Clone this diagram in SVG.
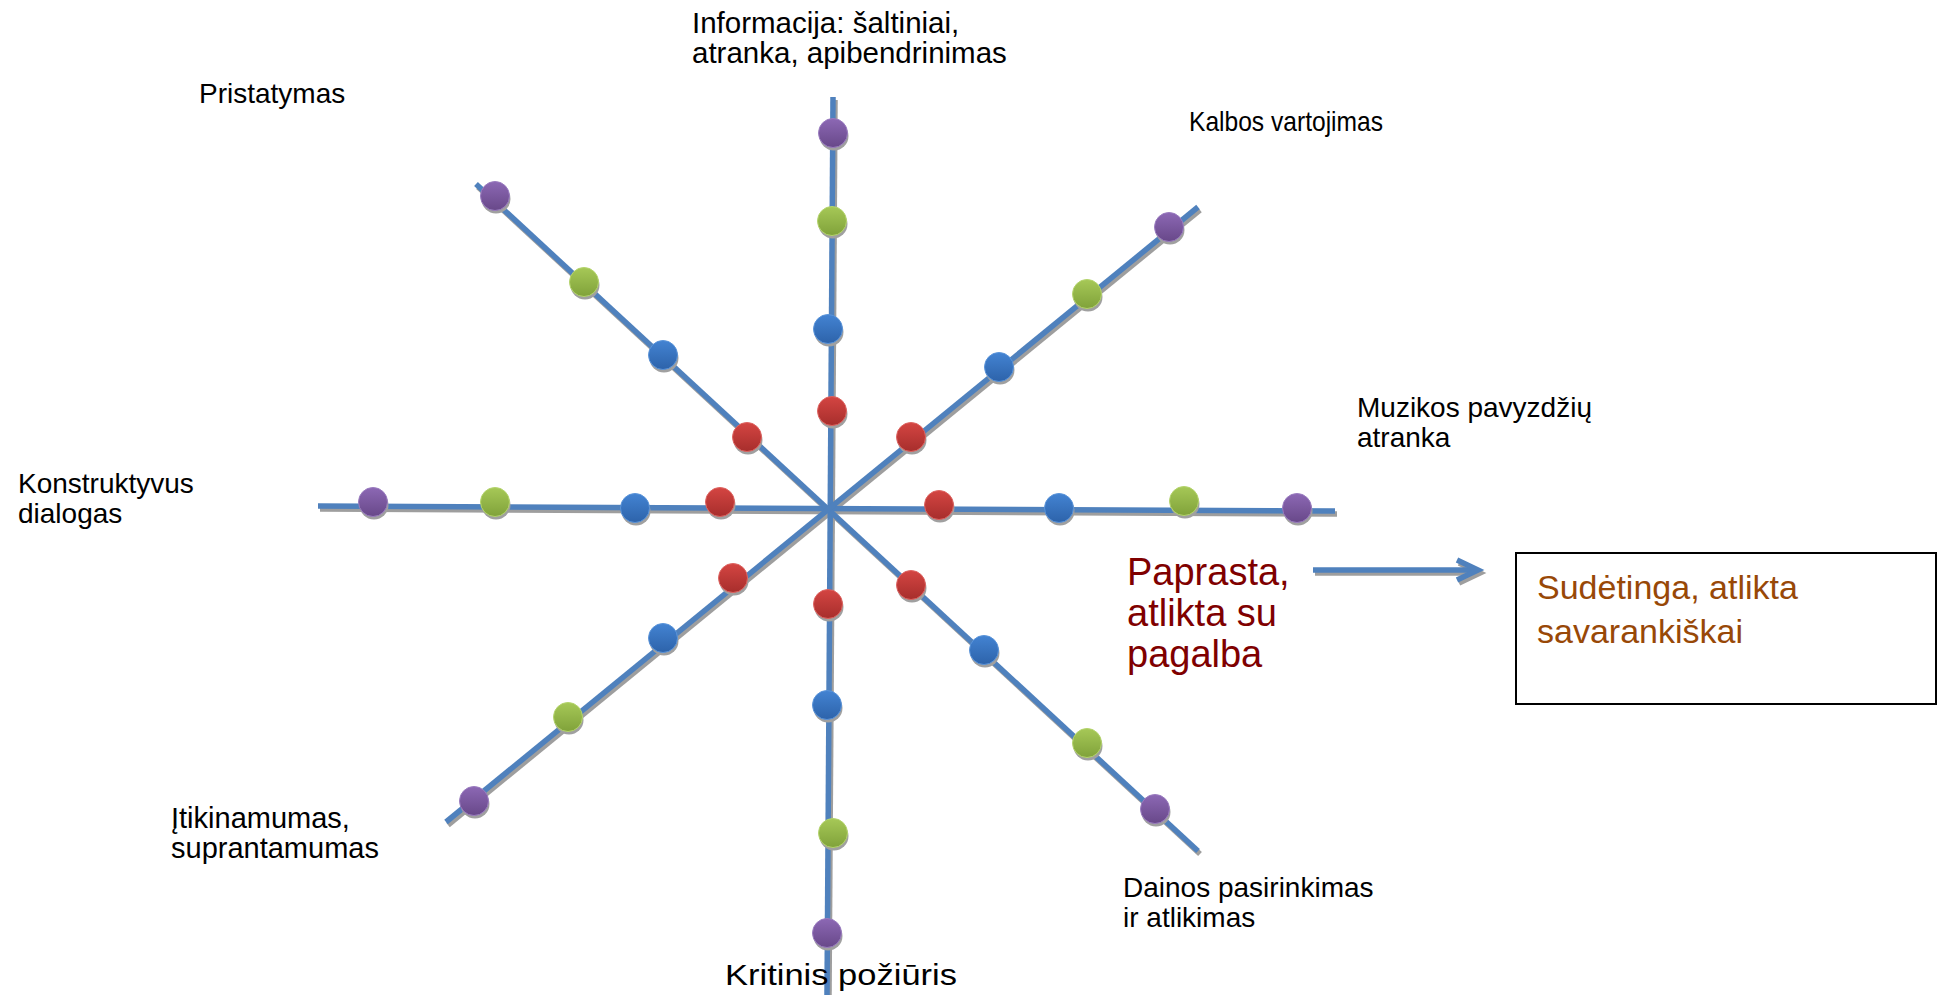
<svg xmlns="http://www.w3.org/2000/svg" width="1946" height="995" viewBox="0 0 1946 995">
<defs>
<linearGradient id="gP" x1="0" y1="0" x2="0" y2="1"><stop offset="0" stop-color="#8c68b4"/><stop offset="1" stop-color="#684889"/></linearGradient>
<linearGradient id="gG" x1="0" y1="0" x2="0" y2="1"><stop offset="0" stop-color="#a6c857"/><stop offset="1" stop-color="#80a23a"/></linearGradient>
<linearGradient id="gB" x1="0" y1="0" x2="0" y2="1"><stop offset="0" stop-color="#4383d2"/><stop offset="1" stop-color="#2d63aa"/></linearGradient>
<linearGradient id="gR" x1="0" y1="0" x2="0" y2="1"><stop offset="0" stop-color="#d44542"/><stop offset="1" stop-color="#a72e2c"/></linearGradient>
</defs>
<style>
.ax{stroke:#4f81bd;stroke-width:5.5;fill:none}
.sh{stroke:#9e9e9e;stroke-width:5.5;fill:none}
.ds{fill:#a0a0a0}
.p{fill:url(#gP);stroke:#9a7cc0;stroke-width:1}
.g{fill:url(#gG);stroke:#b4d46c;stroke-width:1}
.b{fill:url(#gB);stroke:#5a94da;stroke-width:1}
.r{fill:url(#gR);stroke:#de6461;stroke-width:1}
.lbl{font-family:"Liberation Sans",Arial,sans-serif;font-size:28px;fill:#000}
.big{font-family:"Liberation Sans",Arial,sans-serif;font-size:38px;fill:#7f0000}
.box{font-family:"Liberation Sans",Arial,sans-serif;font-size:34px;fill:#984807}
</style>
<rect width="1946" height="995" fill="#fff"/>
<g id="connectors">
<line class="sh" x1="835" y1="100" x2="829" y2="996"/>
<line class="sh" x1="320" y1="509" x2="1337" y2="514"/>
<line class="sh" x1="478" y1="187" x2="1200" y2="854"/>
<line class="sh" x1="448" y1="825" x2="1200" y2="210"/>
<line class="ax" x1="833" y1="97" x2="827" y2="995"/>
<line class="ax" x1="318" y1="506" x2="1335" y2="511"/>
<line class="ax" x1="476" y1="184" x2="1198" y2="851"/>
<line class="ax" x1="446" y1="822" x2="1198" y2="207"/>
<g id="arrow">
<line class="sh" x1="1315" y1="573" x2="1476" y2="573"/>
<polyline class="sh" points="1459,563 1480,573 1459,583"/>
<line class="ax" x1="1313" y1="570" x2="1474" y2="570"/>
<polyline class="ax" points="1457,560 1478,570 1457,580"/>
</g>
</g>
<g id="dots">
<g id="axis-n">
<circle class="ds" cx="834" cy="136" r="14.5"/><circle class="p" cx="833" cy="133" r="14.5"/>
<circle class="ds" cx="833" cy="224" r="14.5"/><circle class="g" cx="832" cy="221" r="14.5"/>
<circle class="ds" cx="829" cy="332" r="14.5"/><circle class="b" cx="828" cy="329" r="14.5"/>
<circle class="ds" cx="833" cy="414" r="14.5"/><circle class="r" cx="832" cy="411" r="14.5"/>
</g>
<g id="axis-s">
<circle class="ds" cx="829" cy="607" r="14.5"/><circle class="r" cx="828" cy="604" r="14.5"/>
<circle class="ds" cx="828" cy="708" r="14.5"/><circle class="b" cx="827" cy="705" r="14.5"/>
<circle class="ds" cx="834" cy="836" r="14.5"/><circle class="g" cx="833" cy="833" r="14.5"/>
<circle class="ds" cx="828" cy="936" r="14.5"/><circle class="p" cx="827" cy="933" r="14.5"/>
</g>
<g id="axis-w">
<circle class="ds" cx="374" cy="505" r="14.5"/><circle class="p" cx="373" cy="502" r="14.5"/>
<circle class="ds" cx="496" cy="505" r="14.5"/><circle class="g" cx="495" cy="502" r="14.5"/>
<circle class="ds" cx="636" cy="511" r="14.5"/><circle class="b" cx="635" cy="508" r="14.5"/>
<circle class="ds" cx="721" cy="505" r="14.5"/><circle class="r" cx="720" cy="502" r="14.5"/>
</g>
<g id="axis-e">
<circle class="ds" cx="940" cy="508" r="14.5"/><circle class="r" cx="939" cy="505" r="14.5"/>
<circle class="ds" cx="1060" cy="511" r="14.5"/><circle class="b" cx="1059" cy="508" r="14.5"/>
<circle class="ds" cx="1185" cy="504" r="14.5"/><circle class="g" cx="1184" cy="501" r="14.5"/>
<circle class="ds" cx="1298" cy="511" r="14.5"/><circle class="p" cx="1297" cy="508" r="14.5"/>
</g>
<g id="axis-nw">
<circle class="ds" cx="496" cy="199" r="14.5"/><circle class="p" cx="495" cy="196" r="14.5"/>
<circle class="ds" cx="585" cy="285" r="14.5"/><circle class="g" cx="584" cy="282" r="14.5"/>
<circle class="ds" cx="664" cy="358" r="14.5"/><circle class="b" cx="663" cy="355" r="14.5"/>
<circle class="ds" cx="748" cy="440" r="14.5"/><circle class="r" cx="747" cy="437" r="14.5"/>
</g>
<g id="axis-ne">
<circle class="ds" cx="912" cy="440" r="14.5"/><circle class="r" cx="911" cy="437" r="14.5"/>
<circle class="ds" cx="1000" cy="370" r="14.5"/><circle class="b" cx="999" cy="367" r="14.5"/>
<circle class="ds" cx="1088" cy="297" r="14.5"/><circle class="g" cx="1087" cy="294" r="14.5"/>
<circle class="ds" cx="1170" cy="230" r="14.5"/><circle class="p" cx="1169" cy="227" r="14.5"/>
</g>
<g id="axis-sw">
<circle class="ds" cx="734" cy="581" r="14.5"/><circle class="r" cx="733" cy="578" r="14.5"/>
<circle class="ds" cx="664" cy="641" r="14.5"/><circle class="b" cx="663" cy="638" r="14.5"/>
<circle class="ds" cx="569" cy="720" r="14.5"/><circle class="g" cx="568" cy="717" r="14.5"/>
<circle class="ds" cx="475" cy="804" r="14.5"/><circle class="p" cx="474" cy="801" r="14.5"/>
</g>
<g id="axis-se">
<circle class="ds" cx="912" cy="588" r="14.5"/><circle class="r" cx="911" cy="585" r="14.5"/>
<circle class="ds" cx="985" cy="653" r="14.5"/><circle class="b" cx="984" cy="650" r="14.5"/>
<circle class="ds" cx="1088" cy="746" r="14.5"/><circle class="g" cx="1087" cy="743" r="14.5"/>
<circle class="ds" cx="1156" cy="812" r="14.5"/><circle class="p" cx="1155" cy="809" r="14.5"/>
</g>
</g>
<g id="label-informacija"><text class="lbl" style="font-size:29.5px" x="692" y="33">Informacija: šaltiniai,</text><text class="lbl" style="font-size:29.5px" x="692" y="63">atranka, apibendrinimas</text></g>
<g id="label-pristatymas"><text class="lbl" x="199" y="103">Pristatymas</text></g>
<g id="label-kalbos"><text class="lbl" x="1189" y="131" textLength="194" lengthAdjust="spacingAndGlyphs">Kalbos vartojimas</text></g>
<g id="label-muzikos"><text class="lbl" x="1357" y="417">Muzikos pavyzdžių</text><text class="lbl" x="1357" y="447">atranka</text></g>
<g id="label-konstruktyvus"><text class="lbl" x="18" y="493">Konstruktyvus</text><text class="lbl" x="18" y="523">dialogas</text></g>
<g id="label-itikinamumas"><text class="lbl" style="font-size:29px" x="171" y="828">Įtikinamumas,</text><text class="lbl" style="font-size:29px" x="171" y="858">suprantamumas</text></g>
<g id="label-dainos"><text class="lbl" x="1123" y="897">Dainos pasirinkimas</text><text class="lbl" x="1123" y="927">ir atlikimas</text></g>
<g id="label-kritinis"><text class="lbl" style="font-size:29px" x="725" y="985" textLength="232" lengthAdjust="spacingAndGlyphs">Kritinis požiūris</text></g>
<g id="label-paprasta"><text class="big" x="1127" y="585">Paprasta,</text><text class="big" x="1127" y="626">atlikta su</text><text class="big" x="1127" y="667">pagalba</text></g>
<g id="box-sudetinga">
<rect x="1516" y="553" width="420" height="151" fill="#fff" stroke="#000" stroke-width="2"/>
<text class="box" x="1537" y="599">Sudėtinga, atlikta</text><text class="box" x="1537" y="643">savarankiškai</text>
</g>
</svg>
